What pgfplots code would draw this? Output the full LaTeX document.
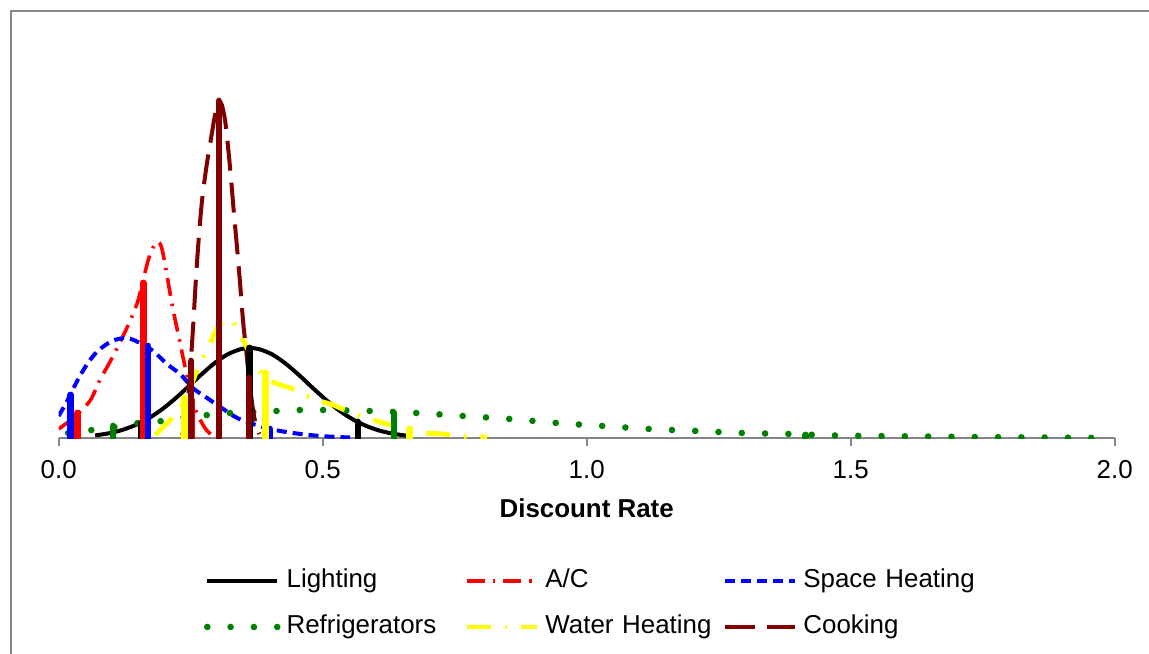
\documentclass[border=0pt]{standalone}
\usepackage{fontspec}
\setmainfont{Liberation Sans}
\usepackage{pgfplots}
\pgfplotsset{compat=1.18}
\definecolor{axgray}{RGB}{134,134,134}
\definecolor{dkred}{RGB}{128,0,0}
\definecolor{fgreen}{RGB}{0,128,0}
\definecolor{ylw}{RGB}{255,255,0}
\begin{document}
\begin{tikzpicture}
\useasboundingbox (0,0) rectangle (574.5bp,-327bp);
\draw[axgray, line width=1.2bp] (5.6bp,-400bp) -- (5.6bp,-5.6bp) -- (700bp,-5.6bp);
\begin{axis}[
  at={(29.35bp,-219bp)}, anchor=south west,
  width=528bp, height=199bp, scale only axis,
  xmin=0, xmax=2, ymin=0, ymax=398,
  axis y line=none, axis x line*=bottom,
  ytick=\empty,
  xtick={0,0.5,1,1.5,2},
  tick align=outside, major tick length=4bp,
  x axis line style={axgray, line width=1bp},
  every tick/.style={axgray, line width=1bp},
  /pgf/number format/assume math mode=true,
  xticklabel style={font=\fontsize{13}{15}\selectfont, anchor=base, yshift=-16bp,
    /pgf/number format/fixed, /pgf/number format/fixed zerofill, /pgf/number format/precision=1},
  xlabel={Discount Rate},
  xlabel style={at={(axis description cs:0.5,0)}, anchor=base, yshift=-39.8bp, font=\fontsize{13}{15}\selectfont\bfseries},
  legend columns=3,
  legend cell align=left,
  legend style={draw=none, fill=none, at={(axis description cs:0.1376,-0.3286)}, anchor=north west,
    inner sep=0pt, outer sep=0pt, column sep=3bp, row sep=10.8bp,
    font=\fontsize{13}{15}\selectfont,
    nodes={inner sep=0pt, text width=86bp, align=left, text height=9.5bp, text depth=2.7bp}},
  legend image code/.code={\draw[#1] (0bp,0bp) -- (35bp,0bp);},
]
% ---- curves ----
\addplot[black, line width=2bp, smooth] coordinates {
(0.069,2.6) (0.095,4.7) (0.120,8.0) (0.145,12.9) (0.170,19.6) (0.195,28.4) (0.220,39.1) (0.245,51.1) (0.270,63.4) (0.295,74.8) (0.320,83.7) (0.345,88.9) (0.362,90) (0.380,88.8) (0.405,83.4) (0.430,74.3) (0.455,63.0) (0.480,50.6) (0.505,38.7) (0.530,28.0) (0.555,19.3) (0.580,12.6) (0.605,7.8) (0.630,4.6) (0.655,2.6) (0.664,2.1)};
\addlegendentry{Lighting}
\addplot[red, line width=1.8bp, smooth, dash pattern=on 9bp off 4bp on 1.2bp off 4bp] coordinates {
(0.0,9) (0.027,20) (0.059,37) (0.078,58) (0.101,80) (0.129,110) (0.150,137) (0.169,177) (0.182,194) (0.188,196) (0.194,192) (0.201,175) (0.216,130) (0.230,95) (0.239,72) (0.258,30) (0.277,10) (0.290,3)};
\addlegendentry{A/C}
\addplot[blue, line width=2bp, smooth, dash pattern=on 5bp off 3bp] coordinates {
(0.0,22) (0.016,37) (0.035,57) (0.054,74) (0.074,87) (0.101,97) (0.129,100) (0.154,95) (0.179,87) (0.205,74) (0.230,64) (0.254,50) (0.281,40) (0.309,30) (0.338,20) (0.368,14) (0.400,9) (0.444,5) (0.495,2) (0.552,0.5)};
\addlegendentry{Space Heating}
\addplot[fgreen, line width=3.3bp, smooth, line cap=round, dash pattern=on 0bp off 11.65bp] coordinates {
(0.018,5) (0.063,8) (0.107,11) (0.150,15) (0.196,17) (0.239,21) (0.283,23) (0.325,25) (0.368,26) (0.413,27) (0.457,28) (0.500,28) (0.590,27) (0.679,25) (0.766,22) (0.855,19) (0.944,15) (1.031,12) (1.120,9) (1.209,7) (1.296,5) (1.385,4) (1.472,2.5) (1.594,1.8) (1.783,0.8) (1.957,0.2)};
\addlegendentry{Refrigerators}
\addplot[ylw, line width=2.4bp, smooth, dash pattern=on 12bp off 7bp on 1.2bp off 7bp] coordinates {
(0.183,3) (0.192,8) (0.211,18) (0.230,30) (0.249,50) (0.262,68) (0.273,80) (0.287,95) (0.300,110) (0.310,116) (0.321,119) (0.332,115) (0.343,104) (0.355,92) (0.368,77) (0.381,67) (0.394,59) (0.415,54) (0.444,49) (0.470,42) (0.495,37) (0.520,33) (0.546,27) (0.590,19) (0.622,14) (0.652,10) (0.697,5) (0.728,4) (0.760,2) (0.811,0.5)};
\addlegendentry{Water Heating}
\addplot[dkred, line width=2bp, smooth, dash pattern=on 15bp off 6bp] coordinates {
(0.234,3) (0.240,18) (0.245,40) (0.250,75) (0.255,115) (0.260,160) (0.266,205) (0.272,240) (0.280,272) (0.288,298) (0.295,320) (0.300,333) (0.304,337) (0.309,333) (0.315,318) (0.320,295) (0.326,262) (0.331,230) (0.337,195) (0.343,158) (0.349,118) (0.355,88) (0.361,57) (0.367,32) (0.373,14) (0.380,4)};
\addlegendentry{Cooking}
% ---- bars ----
\addplot[forget plot, ycomb, black, line width=3.4bp, line cap=round] coordinates {(0.157,15) (0.362,90) (0.567,16)};
\addplot[forget plot, ycomb, red, line width=3.4bp, line cap=round] coordinates {(0.035,25) (0.160,155) (0.251,38)};
\addplot[forget plot, ycomb, blue, line width=3.4bp, line cap=round] coordinates {(0.023,43) (0.169,92) (0.400,9)};
\addplot[forget plot, ycomb, fgreen, line width=3.4bp, line cap=round] coordinates {(0.103,12) (0.635,25) (1.415,3)};
\addplot[forget plot, ycomb, ylw, line width=3.4bp, line cap=round] coordinates {(0.239,40) (0.391,65) (0.665,9)};
\addplot[forget plot, ycomb, dkred, line width=3.4bp, line cap=round] coordinates {(0.2506,77) (0.3036,337) (0.3604,60)};
\end{axis}
\end{tikzpicture}
\end{document}
